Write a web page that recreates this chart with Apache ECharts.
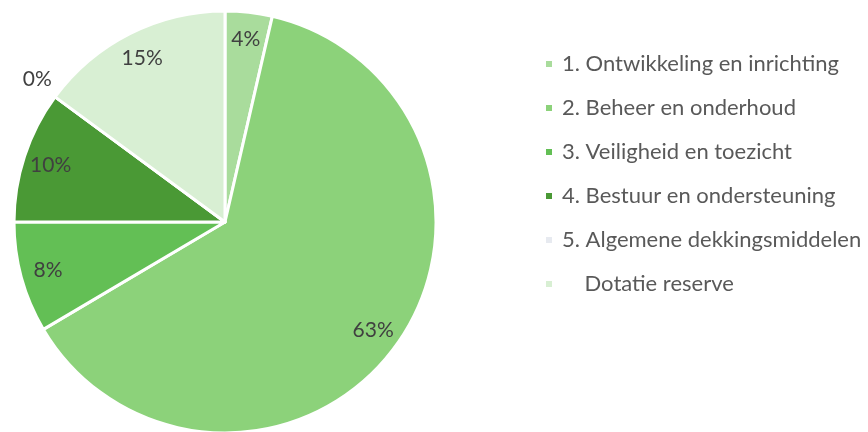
<!DOCTYPE html>
<html>
<head>
<meta charset="utf-8">
<script src="https://cdn.jsdelivr.net/npm/echarts@6/dist/echarts.min.js"></script>
<style>
  html, body { margin: 0; padding: 0; background: #fff; }
  #main { width: 868px; height: 432px; }
</style>
</head>
<body>
<div id="main"></div>
<script>
var categories = [
    '1. Ontwikkeling en inrichting',
    '2. Beheer en onderhoud',
    '3. Veiligheid en toezicht',
    '4. Bestuur en ondersteuning',
    '5. Algemene dekkingsmiddelen',
    '    Dotatie reserve'
];
var values = [3.6, 62.9, 8.5, 10.1, 0, 14.9];
var colorList = ['#a9dc9c', '#8cd27a', '#63bf55', '#4a9935', '#e7eaf0', '#d8efd3'];

var chartDom = document.getElementById('main');
var myChart = echarts.init(chartDom);

var pieData = categories.map(function (name, i) {
    return { name: name, value: values[i], itemStyle: { color: colorList[i] } };
});

// transparent ring on top, only used to place the labels further out
var labelData = categories.map(function (name, i) {
    var item = { name: name, value: values[i], itemStyle: { color: 'rgba(0,0,0,0)', borderWidth: 0 } };
    if (values[i] === 0) {
        item.label = { position: 'outside', distanceToLabelLine: 0, formatter: '{d}%\n ', lineHeight: 30 };
        item.labelLine = { show: false, length: 4, length2: 0 };
    }
    return item;
});

var option = {
    animation: false,
    legend: {
        data: categories,
        orient: 'vertical',
        left: 539,
        top: 48,
        itemWidth: 8,
        itemHeight: 8,
        itemGap: 22,
        icon: 'rect',
        textStyle: { fontFamily: 'Lato', fontSize: 22, color: '#595959', lineHeight: 22, padding: [0, 0, 0, 4] }
    },
    series: [
        {
            type: 'pie',
            center: [225, 222],
            radius: [0, 211],
            startAngle: 90,
            label: { show: false },
            labelLine: { show: false },
            itemStyle: { borderColor: '#fff', borderWidth: 3 },
            data: pieData
        },
        {
            type: 'pie',
            center: [225, 222],
            radius: [150, 211],
            startAngle: 90,
            percentPrecision: 0,
            silent: true,
            label: {
                show: true,
                position: 'inside',
                formatter: '{d}%',
                fontFamily: 'Lato',
                fontSize: 21,
                color: '#404040'
            },
            labelLine: { show: false },
            data: labelData
        }
    ]
};

option && myChart.setOption(option);
</script>
</body>
</html>
